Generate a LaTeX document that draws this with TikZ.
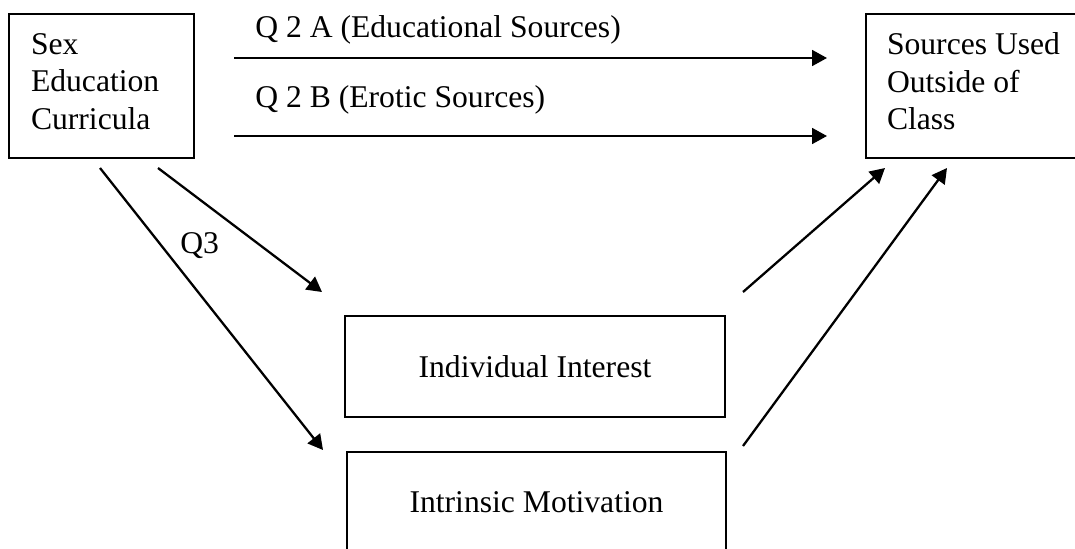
\documentclass[tikz,border=0pt]{standalone}
\usepackage{fontspec}
\setmainfont{Liberation Serif}
\usetikzlibrary{arrows.meta}

\tikzset{
  box/.style={draw, line width=1.3pt, inner sep=0pt, font=\fontsize{18}{21.3}\selectfont},
  flow/.style={line width=1.3pt, -{Triangle[length=8.5pt,width=9pt]}},
  lbl/.style={anchor=base west, inner sep=0pt, font=\fontsize{18}{21.3}\selectfont}
}
\newcommand{\lowstrut}{\rule[-5.2pt]{0pt}{1pt}}

\begin{document}
\begin{tikzpicture}
  \useasboundingbox (0,0) rectangle (21.5,-10.96);
  % boxes
  \node[box, minimum width=3.7cm, minimum height=2.88cm, text width=2.82cm, align=flush left]
    (sec) at (2.03,-1.72) {Sex\\Education\\Curricula\lowstrut};
  \node[box, minimum width=5.08cm, minimum height=2.88cm, text width=4.24cm, align=flush left]
    (src) at (19.86,-1.72) {Sources Used\\Outside of\\Class\lowstrut};
  \node[box, minimum width=7.6cm, minimum height=2.02cm] (ii) at (10.7,-7.33) {Individual Interest};
  \node[box, minimum width=7.58cm, minimum height=2.02cm] (im) at (10.73,-10.05) {Intrinsic Motivation};

  % arrow ends
  \coordinate (a1s) at (4.68,-1.16);
  \coordinate (a1e) at (16.54,-1.16);
  \coordinate (a2s) at (4.68,-2.72);
  \coordinate (a2e) at (16.54,-2.72);
  \coordinate (q3s) at (2.0,-3.36);
  \coordinate (q3e) at (6.46,-9.0);
  \coordinate (iis) at (3.16,-3.36);
  \coordinate (iie) at (6.44,-5.84);
  \coordinate (ios) at (14.86,-5.84);
  \coordinate (ioe) at (17.7,-3.36);
  \coordinate (mos) at (14.86,-8.92);
  \coordinate (moe) at (18.94,-3.36);

  \draw[flow] (a1s) -- (a1e);
  \draw[flow] (a2s) -- (a2e);
  \draw[flow] (q3s) -- (q3e);
  \draw[flow] (iis) -- (iie);
  \draw[flow] (ios) -- (ioe);
  \draw[flow] (mos) -- (moe);

  % labels
  \node[lbl] (qa) at (5.1,-0.74) {Q 2 A (Educational Sources)};
  \node[lbl] (qb) at (5.1,-2.14) {Q 2 B (Erotic Sources)};
  \node[lbl] (q3) at (3.6,-5.06) {Q3};
\end{tikzpicture}
\end{document}
